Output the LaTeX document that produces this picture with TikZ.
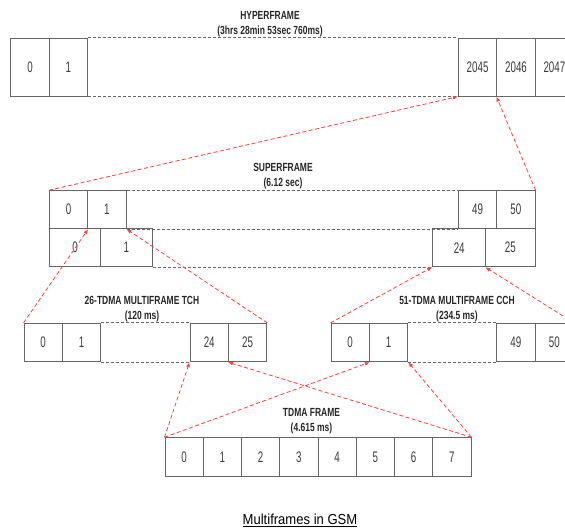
\documentclass[tikz,border=0pt]{standalone}
\usepackage{fontspec}
\setmainfont{Liberation Sans}
\newfontfamily\cellfont{Liberation Sans}[FakeStretch=0.64]
\newfontfamily\titlefont{Liberation Sans}[FakeStretch=0.72]
\newfontfamily\captionfont{Liberation Sans}[FakeStretch=0.9]
\usetikzlibrary{positioning, arrows.meta}
\definecolor{boxgray}{HTML}{666666}
\definecolor{textgray}{HTML}{3C3C3C}
\definecolor{linkred}{HTML}{FF4040}

\begin{document}
\begin{tikzpicture}[x=1pt, y=-1pt,
        cell/.style={% For one slot of a frame
            rectangle,
            draw=boxgray,
            line width=0.9pt,
            inner sep=0pt,
            minimum width=38.4pt,
            minimum height=38.4pt,
            text=textgray,
            font=\cellfont\fontsize{15.3}{17}\selectfont,
            },
        bigcell/.style={% For the hyperframe slots
            cell,
            minimum height=57.7pt,
            },
        title/.style={% For frame names and durations
            align=center,
            text=black!85,
            font=\titlefont\bfseries\fontsize{11.8}{15}\selectfont,
            },
        gap/.style={% Dashed lines for the left out slots
            draw=boxgray,
            line width=0.9pt,
            dash pattern=on 3pt off 2pt,
            },
        link/.style={% Red arrows from a frame to its slot
            draw=linkred,
            line width=0.8pt,
            dash pattern=on 4pt off 2.5pt,
            -{Latex[length=5pt,width=4pt]},
            },
            ]
         \useasboundingbox (0,0) rectangle (565,531);
         % Hyperframe
         \node[title] (htitle) at (270,24) {HYPERFRAME\\(3hrs 28min 53sec 760ms)};
         \node[bigcell] (h0) at (30,67.2) {0};
         \node[bigcell] (h1) at (68.4,67.2) {1};
         \node[bigcell] (h2045) at (477.6,67.2) {2045};
         \node[bigcell] (h2046) at (516,67.2) {2046};
         \node[bigcell] (h2047) at (554.4,67.2) {2047};
         \draw[gap] (h1.north east) -- (h2045.north west);
         \draw[gap] (h1.south east) -- (h2045.south west);
         % Superframe
         \node[title] (stitle) at (283,176) {SUPERFRAME\\(6.12 sec)};
         \node[cell, minimum height=38pt] (s0) at (68.5,209.7) {0};
         \node[cell, minimum height=38pt] (s1) at (106.9,209.7) {1};
         \node[cell, minimum height=38pt] (s49) at (477.5,209.7) {49};
         \node[cell, minimum height=38pt] (s50) at (515.9,209.7) {50};
         \node[cell, minimum height=38pt, minimum width=51.4pt] (sb0) at (75,247.7) {0};
         \node[cell, minimum height=38pt, minimum width=51.4pt] (sb1) at (126.4,247.7) {1};
         \node[cell, minimum height=38pt, minimum width=53pt] (sb24) at (459.2,247.7) {24};
         \node[cell, minimum height=38pt, minimum width=49.3pt] (sb25) at (510.35,247.7) {25};
         \draw[gap] (s1.north east) -- (s49.north west);
         \draw[gap] (s1.south east) -- (s49.south west);
         \draw[gap] (sb1.south east) -- (sb24.south west);
         % 26-TDMA multiframe
         \node[title] (ttitle) at (142,309) {26-TDMA MULTIFRAME TCH\\(120 ms)};
         \node[cell] (t0) at (43.2,342.5) {0};
         \node[cell] (t1) at (81.6,342.5) {1};
         \node[cell] (t24) at (209.2,342.5) {24};
         \node[cell] (t25) at (247.6,342.5) {25};
         \draw[gap] (t1.north east) -- (t24.north west);
         \draw[gap] (t1.south east) -- (t24.south west);
         % 51-TDMA multiframe
         \node[title] (ctitle) at (457,309) {51-TDMA MULTIFRAME CCH\\(234.5 ms)};
         \node[cell] (c0) at (350.2,342.5) {0};
         \node[cell] (c1) at (388.6,342.5) {1};
         \node[cell] (c49) at (515.9,342.5) {49};
         \node[cell] (c50) at (554.3,342.5) {50};
         \draw[gap] (c1.north east) -- (c49.north west);
         \draw[gap] (c1.south east) -- (c49.south west);
         % TDMA frame
         \node[title] (ftitle) at (311.5,421.5) {TDMA FRAME\\(4.615 ms)};
         \node[cell, minimum width=38.25pt] (f0) at (184.1,456.9) {0};
         \node[cell, minimum width=38.25pt] (f1) at (222.4,456.9) {1};
         \node[cell, minimum width=38.25pt] (f2) at (260.6,456.9) {2};
         \node[cell, minimum width=38.25pt] (f3) at (298.9,456.9) {3};
         \node[cell, minimum width=38.25pt] (f4) at (337.1,456.9) {4};
         \node[cell, minimum width=38.25pt] (f5) at (375.4,456.9) {5};
         \node[cell, minimum width=38.25pt] (f6) at (413.6,456.9) {6};
         \node[cell, minimum width=38.25pt] (f7) at (451.9,456.9) {7};
         % Red links
         \draw[link] (s0.north west) -- (h2045.south west);
         \draw[link] (s50.north east) -- (h2046.south west);
         \draw[link] (t0.north west) -- (s0.south east);
         \draw[link] (t25.north east) -- (s1.south east);
         \draw[link] (c0.north west) -- (sb24.south west);
         \draw[link] (c50.north east) -- (sb25.south west);
         \draw[link] (f0.north west) -- (t24.south west);
         \draw[link] (f7.north east) -- (t25.south west);
         \draw[link] (f0.north west) -- (c0.south east);
         \draw[link] (f7.north east) -- (c1.south east);
         \node[font=\captionfont\fontsize{14.5}{16}\selectfont] (caption) at (300,520) {\underline{Multiframes in GSM}};
        \end{tikzpicture}
\end{document}
